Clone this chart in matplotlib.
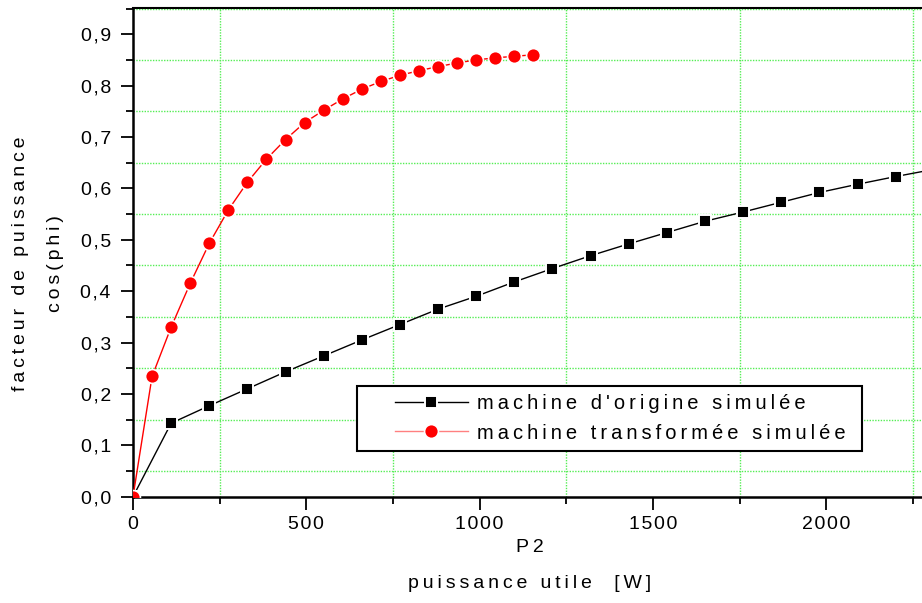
import matplotlib
matplotlib.use("Agg")
import matplotlib.pyplot as plt
from matplotlib.patches import Rectangle
from matplotlib.ticker import MultipleLocator, FuncFormatter

# P2 (W) / cos(phi) -- simulated original machine
p2_origine = [0, 110, 220, 330, 440, 550, 660, 770, 880, 990, 1100, 1210,
              1320, 1430, 1540, 1650, 1760, 1870, 1980, 2090, 2200, 2310]
cos_origine = [0.0, 0.143, 0.177, 0.210, 0.243, 0.274, 0.305, 0.335, 0.365,
               0.390, 0.418, 0.444, 0.469, 0.492, 0.514, 0.536, 0.554, 0.573,
               0.592, 0.608, 0.623, 0.637]

# P2 (W) / cos(phi) -- simulated modified machine
p2_transf = [0, 55, 110, 165, 220, 275, 330, 385, 440, 495, 550, 605, 660,
             715, 770, 825, 880, 935, 990, 1045, 1100, 1155]
cos_transf = [0.0, 0.234, 0.330, 0.415, 0.493, 0.558, 0.612, 0.657, 0.695,
              0.728, 0.752, 0.774, 0.793, 0.808, 0.820, 0.829, 0.837, 0.844,
              0.850, 0.854, 0.857, 0.860]

label_origine = "machine d'origine simulée"
label_transf = "machine transformée simulée"

FONT = ["Liberation Sans", "DejaVu Sans"]
THIN = "\u2009"   # wider letter spacing for labels
HAIR = "\u200a"   # tighter one for tick numbers
W, H = 922, 603


def spaced(s, sep=THIN):
    return sep.join(s)


plt.rcParams["font.family"] = FONT

fig = plt.figure(figsize=(W / 100, H / 100), dpi=100)
ax = fig.add_axes([133 / W, 1 - 496.7 / H, 1 - 133 / W, (496.7 - 8) / H])

ax.plot(p2_origine, cos_origine, color="black", lw=1.0, marker="s", ms=9,
        mfc="black", mec="white", mew=1.4, label=spaced(label_origine),
        zorder=3)
ax.plot(p2_transf, cos_transf, color="red", lw=1.0, marker="o", ms=10,
        mfc="red", mec="white", mew=1.2, label=spaced(label_transf),
        zorder=4)

ax.set_xlim(0, 2276)
ax.set_ylim(0, 0.951)

ax.xaxis.set_major_locator(MultipleLocator(500))
ax.xaxis.set_minor_locator(MultipleLocator(250))
ax.yaxis.set_major_locator(MultipleLocator(0.1))
ax.yaxis.set_minor_locator(MultipleLocator(0.05))

ax.xaxis.set_major_formatter(
    FuncFormatter(lambda v, p: spaced(f"{v:.0f}", HAIR)))
ax.yaxis.set_major_formatter(
    FuncFormatter(lambda v, p: spaced(f"{v:.1f}".replace(".", ","), HAIR)))

ax.tick_params(which="major", direction="out", length=9, width=1.3,
               labelsize=14, pad=5, colors="black")
ax.tick_params(which="minor", direction="out", length=5, width=1.3)
ax.tick_params(axis="y", which="major", pad=7)
ax.tick_params(top=False, right=False)

# grid only on the minor ticks
ax.grid(False, which="major")
ax.grid(True, which="minor", color="#55ee55", lw=1.0, ls=(0, (1, 1)))
ax.set_axisbelow(True)

for side in ("left", "bottom"):
    ax.spines[side].set_linewidth(1.8)
ax.spines["top"].set_linewidth(1.5)
ax.spines["right"].set_visible(False)

fig.text(38 / W, 1 - 264 / H,
         spaced("facteur de puissance") + "\n" + spaced("cos(phi)"),
         rotation=90, ha="center", va="center", multialignment="center",
         fontsize=14, linespacing=2.4)
fig.text(530 / W, 1 - 548 / H, spaced("P2"), ha="center", va="center",
         fontsize=14)
fig.text(530 / W, 1 - 583 / H, spaced("puissance utile  [W]"),
         ha="center", va="center", fontsize=14)

# legend box drawn separately so the entries can sit with a wide left margin
box = Rectangle((357 / W, 1 - 451 / H), (862 - 357) / W, (451 - 386) / H,
                transform=fig.transFigure, facecolor="white",
                edgecolor="black", lw=1.5, zorder=5)
ax.add_patch(box)
box.set_clip_on(False)

leg = ax.legend(loc="center left", bbox_to_anchor=(395 / W, 1 - 418.5 / H),
                bbox_transform=fig.transFigure, borderaxespad=0,
                borderpad=0, frameon=False, fontsize=14.5, handlelength=3.6,
                handletextpad=0.45, labelspacing=0.5)
leg.set_zorder(6)
leg.legend_handles[1].set_color("#ff8080")
leg.legend_handles[1].set_markerfacecolor("red")

fig.savefig("out.png", dpi=100)
